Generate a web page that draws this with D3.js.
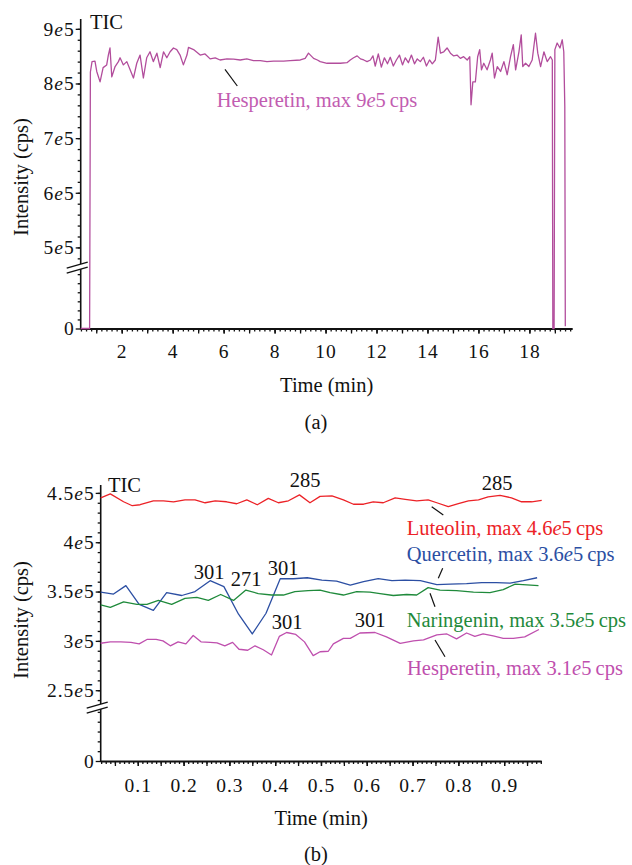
<!DOCTYPE html>
<html>
<head>
<meta charset="utf-8">
<script src="https://cdn.jsdelivr.net/npm/d3@7"></script>
<style>
  body { margin: 0; background: #fff; }
  svg text { font-family: "Liberation Serif", "Times New Roman", serif; font-size: 20.5px; fill: #111; }
  svg .tick text { font-size: 19.5px; letter-spacing: 1px; }
</style>
</head>
<body>
<div id="chart"></div>
<script>
// ---- panel (a): TIC of hesperetin over the whole run ----
const timeA = [0.39, 0.74, 0.77, 0.835, 0.95, 1.02, 1.15, 1.27, 1.41, 1.475, 1.54, 1.61, 1.74, 1.87, 1.935,
  2.065, 2.20, 2.33, 2.46, 2.59, 2.72, 2.85, 2.98, 3.11, 3.24, 3.38, 3.51, 3.64, 3.77, 3.90, 4.03, 4.16, 4.29,
  4.42, 4.56, 4.62, 4.82, 5.08, 5.27, 5.47, 5.67, 5.86, 6.13, 6.39, 6.65, 6.91, 7.17, 7.44, 7.70, 7.96, 8.35,
  8.61, 9.01, 9.20, 9.33, 9.53, 9.68, 9.79, 10.06, 10.32, 10.58, 10.84, 10.97, 11.10, 11.24, 11.37, 11.50,
  11.63, 11.76, 11.86, 11.95, 12.07, 12.19, 12.31, 12.43, 12.54, 12.66, 12.78, 12.90, 13.02, 13.13, 13.25,
  13.37, 13.49, 13.60, 13.72, 13.84, 13.96, 14.08, 14.19, 14.31, 14.42, 14.51, 14.64, 14.77, 14.90, 15.03,
  15.16, 15.29, 15.42, 15.56, 15.66, 15.71, 15.78, 15.88, 15.97, 16.05, 16.12, 16.21, 16.34, 16.47, 16.54,
  16.63, 16.74, 16.87, 17.00, 17.13, 17.26, 17.37, 17.46, 17.59, 17.68, 17.74, 17.85, 17.98, 18.11, 18.24,
  18.33, 18.44, 18.57, 18.70, 18.83, 18.90, 18.92, 18.97, 19.00, 19.09, 19.20, 19.29, 19.35, 19.39, 19.41];
// intensity in units of 1e5 cps
const hespA = [0, 0, 8.21, 8.40, 8.41, 8.22, 8.03, 8.29, 8.34, 8.52, 8.65, 8.12, 8.31, 8.40, 8.47,
  8.34, 8.40, 8.25, 8.10, 8.37, 8.52, 8.10, 8.47, 8.58, 8.40, 8.555, 8.29, 8.58, 8.47, 8.58, 8.65, 8.62, 8.52,
  8.34, 8.52, 8.66, 8.62, 8.52, 8.54, 8.45, 8.47, 8.43, 8.45, 8.445, 8.43, 8.45, 8.42, 8.42, 8.40, 8.41, 8.41,
  8.42, 8.43, 8.46, 8.555, 8.46, 8.43, 8.40, 8.37, 8.37, 8.37, 8.38, 8.43, 8.47, 8.505, 8.45, 8.43,
  8.40, 8.43, 8.505, 8.32, 8.54, 8.30, 8.47, 8.36, 8.48, 8.32, 8.43, 8.52, 8.34, 8.47, 8.38,
  8.52, 8.36, 8.45, 8.40, 8.48, 8.32, 8.43, 8.36, 8.43, 8.85, 8.555, 8.58, 8.65, 8.555, 8.505,
  8.52, 8.46, 8.49, 8.43, 8.49, 7.61, 8.03, 8.03, 8.49, 8.62, 8.25, 8.37, 8.25, 8.43, 8.555,
  8.10, 8.31, 8.22, 8.40, 8.16, 8.49, 8.71, 8.25, 8.58, 8.89, 8.31, 8.37, 8.31, 8.43, 8.92,
  8.555, 8.31, 8.58, 8.40, 8.49, 8.43, 0, 0, 8.62, 8.74, 8.65, 8.80, 8.58, 7.58, 0.05];

// ---- panel (b): first minute, four flavonoids ----
const timeLut = [0.019, 0.040, 0.069, 0.088, 0.105, 0.134, 0.156, 0.178, 0.203, 0.225, 0.247, 0.269, 0.294,
  0.316, 0.338, 0.361, 0.385, 0.407, 0.429, 0.453, 0.476, 0.498, 0.524, 0.549, 0.571, 0.593, 0.614, 0.636,
  0.662, 0.684, 0.709, 0.734, 0.753, 0.778, 0.800, 0.822, 0.844, 0.865, 0.891, 0.916, 0.938, 0.960, 0.982];
const luteolin = [4.45, 4.49, 4.41, 4.37, 4.38, 4.42, 4.42, 4.41, 4.43, 4.43, 4.40, 4.42, 4.41,
  4.39, 4.43, 4.38, 4.445, 4.40, 4.42, 4.48, 4.40, 4.465, 4.47, 4.43, 4.385, 4.385, 4.41, 4.40,
  4.45, 4.435, 4.42, 4.43, 4.40, 4.36, 4.39, 4.42, 4.43, 4.46, 4.475, 4.45, 4.41, 4.41, 4.425];

const timeQue = [0.019, 0.047, 0.074, 0.103, 0.134, 0.163, 0.196, 0.225, 0.258, 0.288, 0.320, 0.350, 0.380,
  0.411, 0.440, 0.470, 0.502, 0.534, 0.564, 0.593, 0.625, 0.655, 0.684, 0.717, 0.753, 0.782, 0.818, 0.851,
  0.883, 0.913, 0.942, 0.972];
const quercetin = [3.494, 3.475, 3.56, 3.37, 3.31, 3.49, 3.46, 3.50, 3.61, 3.55, 3.27, 3.07, 3.28,
  3.63, 3.63, 3.64, 3.615, 3.605, 3.565, 3.60, 3.63, 3.61, 3.615, 3.61, 3.57, 3.575, 3.58, 3.59,
  3.59, 3.585, 3.61, 3.64];

const timeNar = [0.019, 0.040, 0.069, 0.098, 0.120, 0.145, 0.174, 0.203, 0.229, 0.254, 0.281, 0.309, 0.336,
  0.363, 0.392, 0.418, 0.443, 0.472, 0.498, 0.520, 0.549, 0.578, 0.607, 0.629, 0.658, 0.687, 0.709, 0.734,
  0.760, 0.796, 0.833, 0.869, 0.898, 0.924, 0.975];
const naringenin = [3.365, 3.34, 3.395, 3.37, 3.37, 3.41, 3.37, 3.43, 3.44, 3.41, 3.47, 3.41, 3.515,
  3.48, 3.465, 3.465, 3.50, 3.51, 3.515, 3.49, 3.465, 3.50, 3.495, 3.48, 3.46, 3.47, 3.465, 3.54,
  3.515, 3.51, 3.495, 3.49, 3.52, 3.575, 3.56];

const timeHes = [0.019, 0.040, 0.063, 0.085, 0.103, 0.121, 0.140, 0.155, 0.171, 0.188, 0.205, 0.221, 0.238,
  0.258, 0.273, 0.290, 0.307, 0.321, 0.340, 0.356, 0.374, 0.392, 0.409, 0.425, 0.445, 0.464, 0.483, 0.498,
  0.516, 0.527, 0.549, 0.564, 0.585, 0.618, 0.643, 0.673, 0.702, 0.724, 0.753, 0.775, 0.796, 0.818, 0.836,
  0.854, 0.876, 0.898, 0.920, 0.945, 0.976];
const hesperetin = [2.976, 2.99, 2.99, 2.985, 2.97, 3.016, 3.016, 3.00, 2.95, 2.99, 2.97, 3.055, 2.99,
  2.985, 2.98, 2.95, 2.985, 2.915, 2.905, 2.95, 2.91, 2.857, 3.045, 3.085, 3.065, 2.99, 2.85, 2.89,
  2.895, 2.97, 3.025, 3.025, 3.08, 3.085, 3.04, 2.975, 3.00, 3.01, 3.06, 3.07, 3.02, 3.08, 3.045,
  3.07, 3.05, 3.025, 3.025, 3.04, 3.115];

// tick labels
const yMajorA = [0, 5e5, 6e5, 7e5, 8e5, 9e5];
const xLabelsA = [2, 4, 6, 8, 10, 12, 14, 16, 18];
const yMajorB = [0, 2.5e5, 3e5, 3.5e5, 4e5, 4.5e5];
const xLabelsB = [0.1, 0.2, 0.3, 0.4, 0.5, 0.6, 0.7, 0.8, 0.9];

const svg = d3.select("#chart").append("svg")
  .attr("width", 632)
  .attr("height", 865);

// labels like 4.5e5 with italic e
function e5Labels(g) {
  g.selectAll(".tick text").each(function (d) {
    let t = d3.select(this).text("");
    if (d === 0) { t.text("0"); return; }
    t.append("tspan").text(+(d / 1e5).toFixed(1));
    t.append("tspan").style("font-style", "italic").text("e");
    t.append("tspan").text("5");
  });
}

function drawPanel(p) {
  let g = svg.append("g");
  let x = p.x, y = p.y;
  let x0 = x.range()[0], x1 = x.range()[1];
  let yBottom = y(0), yTop = y.range()[3];
  let by = y.range()[1]; // break position

  // minor y ticks
  g.append("g")
    .attr("transform", "translate(" + x0 + ",0)")
    .call(d3.axisLeft(y).tickValues(p.yMinor).tickSize(3).tickFormat(""))
    .call(a => a.select(".domain").remove());
  // major y ticks + labels
  g.append("g")
    .attr("transform", "translate(" + x0 + ",0)")
    .call(d3.axisLeft(y).tickValues(p.yMajor).tickSize(5).tickPadding(1))
    .call(a => a.select(".domain").remove())
    .call(e5Labels);

  // x ticks, three lengths
  g.append("g")
    .attr("transform", "translate(0," + yBottom + ")")
    .call(d3.axisBottom(x).tickValues(p.xMinor).tickSize(3).tickFormat(""))
    .call(a => a.select(".domain").remove());
  g.append("g")
    .attr("transform", "translate(0," + yBottom + ")")
    .call(d3.axisBottom(x).tickValues(p.xMid).tickSize(5).tickFormat(""))
    .call(a => a.select(".domain").remove());
  g.append("g")
    .attr("transform", "translate(0," + yBottom + ")")
    .call(d3.axisBottom(x).tickValues(p.xLabels).tickSize(5).tickPadding(p.xPad).tickFormat(p.xFormat))
    .call(a => a.select(".domain").remove());

  g.selectAll(".tick line").attr("stroke", "#111").attr("stroke-width", 1.3);

  // axis lines with the break
  g.append("line").attr("x1", x0).attr("x2", x1).attr("y1", yBottom + 0.5).attr("y2", yBottom + 0.5)
    .attr("stroke", "#111").attr("stroke-width", 1.8);
  g.append("line").attr("x1", x0).attr("x2", x0).attr("y1", yBottom + 1).attr("y2", by + 3)
    .attr("stroke", "#111").attr("stroke-width", 1.6);
  g.append("line").attr("x1", x0).attr("x2", x0).attr("y1", by - 2).attr("y2", yTop)
    .attr("stroke", "#111").attr("stroke-width", 1.6);
  [[2, -4], [7, 1]].forEach(function (o) {
    g.append("line")
      .attr("x1", x0 - 14).attr("y1", by + o[0])
      .attr("x2", x0 + 7).attr("y2", by + o[1])
      .attr("stroke", "#111").attr("stroke-width", 1.3);
  });

  // series
  let line = d3.line()
    .x(function (d) { return x(d[0]); })
    .y(function (d) { return y(d[1] * 1e5); });
  p.series.forEach(function (s) {
    g.append("path")
      .datum(d3.zip(s.t, s.v))
      .attr("fill", "none")
      .attr("stroke", s.color)
      .attr("stroke-width", s.width)
      .attr("stroke-linejoin", "round")
      .attr("d", line);
  });

  // y axis title
  g.append("text")
    .attr("transform", "translate(28," + p.yTitle + ") rotate(-90)")
    .style("text-anchor", "middle")
    .text("Intensity (cps)");
  // x axis title
  g.append("text")
    .attr("x", (x0 + x1) / 2).attr("y", p.xTitle)
    .style("text-anchor", "middle")
    .text("Time (min)");
  g.append("text")
    .attr("x", 316).attr("y", p.tag[1])
    .style("text-anchor", "middle")
    .text(p.tag[0]);

  // annotations
  p.notes.forEach(function (n) {
    g.append("text")
      .attr("x", n.x).attr("y", n.y)
      .style("text-anchor", n.anchor || "start")
      .style("fill", n.color || "#111")
      .html(n.html);
  });
  p.leaders.forEach(function (l) {
    g.append("line")
      .attr("x1", l[0]).attr("y1", l[1]).attr("x2", l[2]).attr("y2", l[3])
      .attr("stroke", "#111").attr("stroke-width", 1.2);
  });
}

const e = '<tspan font-style="italic">e</tspan>';

// panel (a)
drawPanel({
  x: d3.scaleLinear().domain([0.39, 19.7]).range([80.7, 572.7]),
  y: d3.scaleLinear().domain([0, 1.38e5, 4.66e5, 9.18e5]).range([328.5, 266, 266, 19]),
  yMajor: yMajorA,
  yMinor: d3.range(1, 7).map(k => k * 2e4).concat(d3.range(24, 46).map(k => k * 2e4)),
  xMinor: d3.range(2, 99).map(k => k * 0.2),
  xMid: d3.range(1, 20),
  xLabels: xLabelsA,
  xFormat: d3.format("d"),
  xPad: 11,
  series: [{ t: timeA, v: hespA, color: "#b24d9c", width: 1.3 }],
  yTitle: 177,
  xTitle: 392,
  tag: ["(a)", 429],
  notes: [
    { x: 90, y: 29, html: "TIC" },
    { x: 216.7, y: 107, color: "#c25db1", html: "Hesperetin, max 9" + e + "5\u2009cps" }
  ],
  leaders: [[225, 69.3, 237.3, 86]]
});

// panel (b)
drawPanel({
  x: d3.scaleLinear().domain([0.019, 0.982]).range([100.7, 541.7]),
  y: d3.scaleLinear().domain([0, 5.6e4, 2.34e5, 4.58e5]).range([761, 706, 706, 485]),
  yMajor: yMajorB,
  yMinor: d3.range(1, 6).map(k => k * 1e4).concat(d3.range(24, 46).map(k => k * 1e4)),
  xMinor: d3.range(2, 99).map(k => k / 100),
  xMid: d3.range(1, 20).map(k => k / 20),
  xLabels: xLabelsB,
  xFormat: d3.format(".1f"),
  xPad: 12.5,
  series: [
    { t: timeLut, v: luteolin, color: "#ec2227", width: 1.3 },
    { t: timeQue, v: quercetin, color: "#2c4fa3", width: 1.3 },
    { t: timeNar, v: naringenin, color: "#1f8a3b", width: 1.3 },
    { t: timeHes, v: hesperetin, color: "#bf4fae", width: 1.3 }
  ],
  yTitle: 620,
  xTitle: 825,
  tag: ["(b)", 861],
  notes: [
    { x: 108, y: 492, html: "TIC" },
    { x: 305, y: 487, anchor: "middle", html: "285" },
    { x: 497, y: 490, anchor: "middle", html: "285" },
    { x: 209, y: 579, anchor: "middle", html: "301" },
    { x: 246, y: 586, anchor: "middle", html: "271" },
    { x: 283, y: 575, anchor: "middle", html: "301" },
    { x: 287, y: 629, anchor: "middle", html: "301" },
    { x: 370, y: 627, anchor: "middle", html: "301" },
    { x: 406.7, y: 535, color: "#ec2227", html: "Luteolin, max 4.6" + e + "5\u2009cps" },
    { x: 406.7, y: 561, color: "#2c4fa3", html: "Quercetin, max 3.6" + e + "5\u2009cps" },
    { x: 406.7, y: 627, color: "#1f8a3b", html: "Naringenin, max 3.5" + e + "5\u2009cps" },
    { x: 407, y: 675, color: "#bf4fae", html: "Hesperetin, max 3.1" + e + "5\u2009cps" }
  ],
  leaders: [
    [431.7, 506.7, 443.3, 515],
    [438.3, 578.3, 442.7, 568.3],
    [430, 593.3, 435, 606.7],
    [435, 640, 445, 656.7]
  ]
});
</script>
</body>
</html>
